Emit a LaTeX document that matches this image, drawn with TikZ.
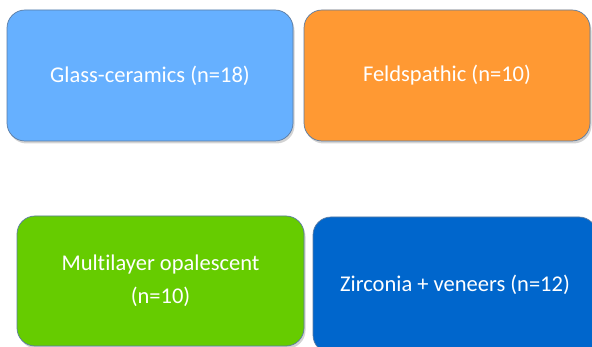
\documentclass[tikz,border=0pt]{standalone}
\usepackage{fontspec}
\setmainfont[Ligatures={NoCommon}]{Carlito}
\usetikzlibrary{shadows}
\definecolor{lblue}{HTML}{66B0FF}
\definecolor{orng}{HTML}{FF9933}
\definecolor{grn}{HTML}{66CC00}
\definecolor{dblue}{HTML}{0066CC}
\definecolor{edge}{HTML}{5A7BA3}
\tikzset{
  box/.style={rounded corners=18pt, draw=edge, line width=0.7pt, text=white,
    font=\fontsize{22.5}{33}\selectfont, align=center, inner sep=0pt,
    drop shadow={opacity=0.35, shadow xshift=1.5pt, shadow yshift=-2.5pt}},
}
\begin{document}
\begin{tikzpicture}[x=1pt,y=-1pt]
\useasboundingbox (0,0) rectangle (592,347);
\clip (0,0) rectangle (592,347);
\node[box, fill=lblue, minimum width=286pt, minimum height=131pt] (glass) at (150,75.5) {Glass-ceramics (n=18)};
\node[box, fill=orng, minimum width=286pt, minimum height=131pt] (feld) at (447,75.5) {Feldspathic (n=10)};
\node[box, fill=grn, minimum width=287pt, minimum height=130pt] (multi) at (160.5,281) {Multilayer opalescent\\(n=10)};
\node[box, fill=dblue, minimum width=284pt, minimum height=136pt] (zirc) at (455,285) {Zirconia + veneers (n=12)};
\end{tikzpicture}
\end{document}
